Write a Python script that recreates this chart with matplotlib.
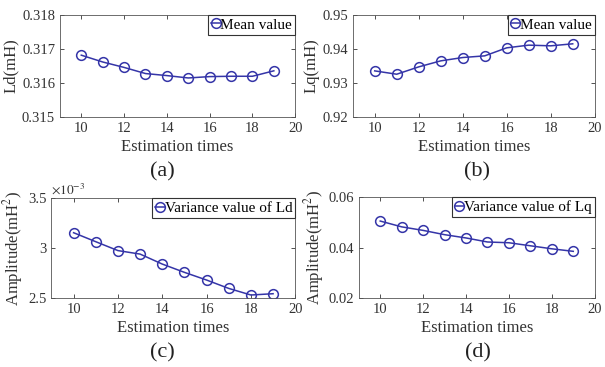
import matplotlib
matplotlib.use("Agg")
import matplotlib.pyplot as plt
import numpy as np

plt.rcParams["font.family"] = ["Liberation Serif", "DejaVu Serif"]
plt.rcParams["mathtext.fontset"] = "stix"

# estimation index
times = [10, 11, 12, 13, 14, 15, 16, 17, 18, 19]

# (a) mean Ld, mH
ld_mean = [0.31682, 0.31662, 0.31646, 0.31628, 0.31622, 0.31615, 0.31619, 0.31620, 0.31620, 0.31636]
# (b) mean Lq, mH
lq_mean = [0.93358, 0.93260, 0.93476, 0.93653, 0.93751, 0.93800, 0.94036, 0.94115, 0.94095, 0.94154]
# (c) variance of Ld, mH^2
ld_var = [3.154e-3, 3.064e-3, 2.975e-3, 2.940e-3, 2.840e-3, 2.757e-3, 2.680e-3, 2.596e-3, 2.530e-3, 2.543e-3]
# (d) variance of Lq, mH^2
lq_var = [0.0505, 0.0482, 0.0468, 0.0451, 0.0438, 0.0422, 0.0419, 0.0407, 0.0395, 0.0385]

color = "#3535a8"

panels = [
    # data, ylabel, legend, ylim, yticks, ticklabels, rect, tag, tag_xy
    (ld_mean, "Ld(mH)", "Mean value", (0.315, 0.318), [0.315, 0.316, 0.317, 0.318],
     ["0.315", "0.316", "0.317", "0.318"], [0.099, 0.681, 0.389, 0.278], "(a)", (0.268, 0.531)),
    (lq_mean, "Lq(mH)", "Mean value", (0.92, 0.95), [0.92, 0.93, 0.94, 0.95],
     ["0.92", "0.93", "0.94", "0.95"], [0.583, 0.681, 0.400, 0.278], "(b)", (0.788, 0.531)),
    (ld_var, "Amplitude(mH$^2$)", "Variance value of Ld", (2.5e-3, 3.5e-3), [2.5e-3, 3.0e-3, 3.5e-3],
     ["2.5", "3", "3.5"], [0.085, 0.188, 0.403, 0.272], "(c)", (0.268, 0.038)),
    (lq_var, "Amplitude(mH$^2$)", "Variance value of Lq", (0.02, 0.06), [0.02, 0.04, 0.06],
     ["0.02", "0.04", "0.06"], [0.593, 0.188, 0.390, 0.275], "(d)", (0.790, 0.038)),
]

fig = plt.figure(figsize=(6.05, 3.67), dpi=100)

for data, ylab, leg, ylim, yt, ytl, rect, tag, txy in panels:
    ax = fig.add_axes(rect)
    ax.plot(times, data, "-o", color=color, linewidth=1.1, markersize=7,
            markerfacecolor="none", markeredgewidth=1.1, label=leg)
    ax.set_xlim(9, 20)
    ax.set_xticks([10, 12, 14, 16, 18, 20])
    ax.set_ylim(*ylim)
    ax.set_yticks(yt)
    ax.set_yticklabels(ytl)
    ax.tick_params(direction="in", top=True, right=True, labelsize=10.5, length=3,
                   width=0.6, colors="#333333", labelcolor="#333333")
    for s in ax.spines.values():
        s.set_linewidth(0.6)
        s.set_color("#555555")
    ax.set_xlabel("Estimation times", fontsize=12, color="#333333", labelpad=3)
    ax.set_ylabel(ylab, fontsize=12, color="#333333", labelpad=2)
    lg = ax.legend(loc="upper right", fontsize=11, handlelength=0.6, handletextpad=0.0,
                   borderpad=0.2, borderaxespad=0.0, fancybox=False, framealpha=1)
    lg.get_frame().set_edgecolor("#333333")
    lg.get_frame().set_linewidth(0.8)
    fig.text(txy[0], txy[1], tag, fontsize=16, ha="center", va="center", color="#222222")
    if tag == "(c)":
        ax.text(0.0, 1.02, r"$\times10^{-3}$", transform=ax.transAxes, fontsize=9.5,
                color="#333333", ha="left", va="bottom")

fig.savefig("out.png", dpi=100)
